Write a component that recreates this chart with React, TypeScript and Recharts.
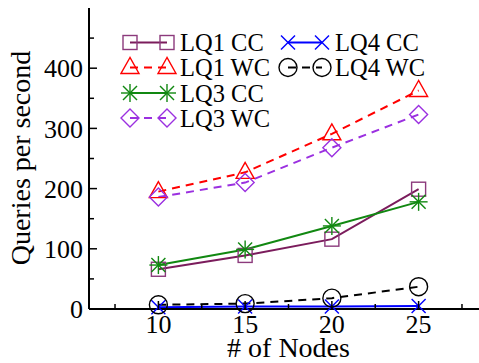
import React from 'react';
import { LineChart, Line, XAxis, YAxis } from 'recharts';

if (typeof document !== 'undefined') document.body.style.margin = '0';

const nodes = [10, 15, 20, 25];
const lq1cc = [66, 89, 116, 199];
const lq1wc = [195, 227, 291, 363];
const lq3cc = [73, 99, 138, 178];
const lq3wc = [186, 210, 268, 323];
const lq4cc = [3, 4, 4, 5];
const lq4wc = [7, 9, 18, 37];

const xTicks = [7.5, 10, 12.5, 15, 17.5, 20, 22.5, 25, 27.5];
const yTicks = [0, 50, 100, 150, 200, 250, 300, 350, 400, 450];

const textStyle = { fontFamily: 'Liberation Serif' };

type Kind = 'square' | 'triangle' | 'star' | 'diamond' | 'cross' | 'circle';

const series = [
  { key: 'lq1cc', name: 'LQ1 CC', values: lq1cc, color: '#7b1c5c', mark: '#8c3a7c', kind: 'square' as Kind, dash: undefined },
  { key: 'lq1wc', name: 'LQ1 WC', values: lq1wc, color: '#ff0000', mark: '#ff0000', kind: 'triangle' as Kind, dash: '8 6' },
  { key: 'lq3cc', name: 'LQ3 CC', values: lq3cc, color: '#118811', mark: '#118811', kind: 'star' as Kind, dash: undefined },
  { key: 'lq3wc', name: 'LQ3 WC', values: lq3wc, color: '#9b30e0', mark: '#9b30e0', kind: 'diamond' as Kind, dash: '8 6' },
  { key: 'lq4cc', name: 'LQ4 CC', values: lq4cc, color: '#0000ff', mark: '#0000ff', kind: 'cross' as Kind, dash: undefined },
  { key: 'lq4wc', name: 'LQ4 WC', values: lq4wc, color: '#000000', mark: '#000000', kind: 'circle' as Kind, dash: '8 6' },
];

const data = nodes.map((n, i) => {
  const row: Record<string, number> = { nodes: n };
  series.forEach((s) => {
    row[s.key] = s.values[i];
  });
  return row;
});

function Marker({ kind, cx, cy, color }: { kind: Kind; cx: number; cy: number; color: string }) {
  const p = { fill: 'none', stroke: color, strokeWidth: 1.4 };
  switch (kind) {
    case 'square':
      return <rect x={cx - 7} y={cy - 7} width={14} height={14} {...p} />;
    case 'triangle':
      return <polygon points={`${cx},${cy - 10} ${cx - 9},${cy + 6} ${cx + 9},${cy + 6}`} {...p} />;
    case 'diamond':
      return <polygon points={`${cx},${cy - 9} ${cx + 9},${cy} ${cx},${cy + 9} ${cx - 9},${cy}`} {...p} />;
    case 'circle':
      return <circle cx={cx} cy={cy} r={9} {...p} />;
    case 'cross':
      return (
        <g {...p}>
          <line x1={cx - 7} y1={cy - 7} x2={cx + 7} y2={cy + 7} />
          <line x1={cx - 7} y1={cy + 7} x2={cx + 7} y2={cy - 7} />
        </g>
      );
    case 'star':
    default:
      return (
        <g {...p}>
          <line x1={cx - 9} y1={cy} x2={cx + 9} y2={cy} />
          <line x1={cx} y1={cy - 9} x2={cx} y2={cy + 9} />
          <line x1={cx - 7} y1={cy - 7} x2={cx + 7} y2={cy + 7} />
          <line x1={cx - 7} y1={cy + 7} x2={cx + 7} y2={cy - 7} />
        </g>
      );
  }
}

const BottomTick = (props: any) => {
  const { x, y, payload } = props;
  const major = payload.value % 5 === 0;
  return (
    <g>
      <line x1={x} x2={x} y1={y} y2={y - (major ? 8 : 5)} stroke="#000" strokeWidth={1.5} />
      {major && (
        <text x={x} y={y + 24} textAnchor="middle" style={textStyle} fontSize={26} fill="#000">
          {payload.value}
        </text>
      )}
    </g>
  );
};

const TopTick = (props: any) => {
  const { x, y, payload } = props;
  const major = payload.value % 5 === 0;
  return <line x1={x} x2={x} y1={y} y2={y + (major ? 8 : 5)} stroke="#000" strokeWidth={1.5} />;
};

const LeftTick = (props: any) => {
  const { x, y, payload } = props;
  const major = payload.value % 100 === 0;
  return (
    <g>
      <line x1={x} x2={x + (major ? 8 : 5)} y1={y} y2={y} stroke="#000" strokeWidth={1.5} />
      {major && (
        <text x={x - 6} y={y} dy="0.35em" textAnchor="end" style={textStyle} fontSize={26} fill="#000">
          {payload.value}
        </text>
      )}
    </g>
  );
};

const RightTick = (props: any) => {
  const { x, y, payload } = props;
  const major = payload.value % 100 === 0;
  return <line x1={x} x2={x - (major ? 8 : 5)} y1={y} y2={y} stroke="#000" strokeWidth={1.5} />;
};

const legendCols = [
  { x1: 10, x2: 47, tx: 60 },
  { x1: 168, x2: 202, tx: 215 },
];
const legendRows = [14.5, 39.5, 65, 90];

const LegendBox = () => (
  <svg width={340} height={110} style={{ position: 'absolute', left: 120, top: 28 }}>
    {series.map((s, i) => {
      const col = legendCols[i < 4 ? 0 : 1];
      const cy = legendRows[i < 4 ? i : i - 4];
      return (
        <g key={s.key}>
          <line x1={col.x1} x2={col.x2} y1={cy} y2={cy} stroke={s.color} strokeWidth={2} strokeDasharray={s.dash} />
          <Marker kind={s.kind} cx={col.x1} cy={cy} color={s.mark} />
          <Marker kind={s.kind} cx={col.x2} cy={cy} color={s.mark} />
          <text x={col.tx} y={cy} dy="0.35em" style={textStyle} fontSize={24.5} fill="#000">
            {s.name}
          </text>
        </g>
      );
    })}
  </svg>
);

export default function App() {
  return (
    <div style={{ position: 'relative', width: 479, height: 363, overflow: 'hidden', background: '#fff' }}>
      <LineChart width={496} height={363} data={data} margin={{ top: 8, right: 8, left: 0, bottom: 0 }}>
        <XAxis
          dataKey="nodes"
          type="number"
          domain={[6, 29]}
          ticks={xTicks}
          interval={0}
          height={54}
          stroke="#000"
          strokeWidth={2}
          tickLine={false}
          tickSize={0}
          tickMargin={0}
          tick={<BottomTick />}
          label={{
            content: (p: any) => (
              <text
                x={p.viewBox.x + p.viewBox.width / 2}
                y={357}
                textAnchor="middle"
                style={textStyle}
                fontSize={28}
                fill="#000"
              >
                # of Nodes
              </text>
            ),
          }}
        />
        <XAxis
          xAxisId="top"
          orientation="top"
          dataKey="nodes"
          type="number"
          domain={[6, 29]}
          ticks={xTicks}
          interval={0}
          height={0}
          stroke="#000"
          strokeWidth={2}
          tickLine={false}
          tickSize={0}
          tickMargin={0}
          tick={<TopTick />}
        />
        <YAxis
          domain={[0, 500]}
          ticks={yTicks}
          interval={0}
          width={89}
          stroke="#000"
          strokeWidth={2}
          tickLine={false}
          tickSize={0}
          tickMargin={0}
          tick={<LeftTick />}
          label={{
            content: () => (
              <text
                x={0}
                y={0}
                transform="translate(30, 158) rotate(-90)"
                textAnchor="middle"
                style={textStyle}
                fontSize={28}
                fill="#000"
              >
                Queries per second
              </text>
            ),
          }}
        />
        <YAxis
          yAxisId="right"
          orientation="right"
          domain={[0, 500]}
          ticks={yTicks}
          interval={0}
          width={0}
          stroke="#000"
          strokeWidth={2}
          tickLine={false}
          tickSize={0}
          tickMargin={0}
          tick={<RightTick />}
        />
        {series.map((s) => (
          <Line
            key={s.key}
            dataKey={s.key}
            name={s.name}
            stroke={s.color}
            strokeWidth={2}
            strokeDasharray={s.dash}
            isAnimationActive={false}
            activeDot={false}
            dot={(p: any) => <Marker key={`${s.key}-${p.index}`} kind={s.kind} cx={p.cx} cy={p.cy} color={s.mark} />}
          />
        ))}
      </LineChart>
      <LegendBox />
    </div>
  );
}
